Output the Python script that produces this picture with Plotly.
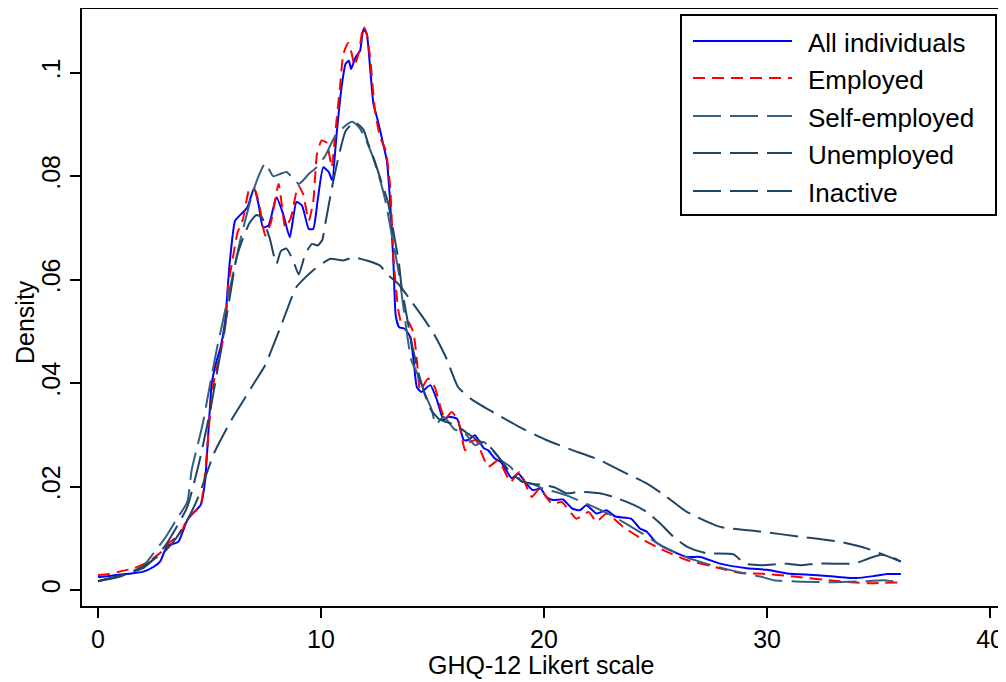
import plotly.graph_objects as go

# ---------------- data ----------------
all_x = [0, 0.5, 1, 1.5, 2, 2.5, 2.8, 3.1, 3.6, 4.0, 4.3, 4.6, 4.8, 5.0, 5.1, 5.3, 5.5, 5.7, 5.9, 6.15, 6.45, 6.7,
         7.0, 7.2, 7.4, 7.65, 8.0, 8.3, 8.6, 8.9, 9.15, 9.45, 9.65, 9.85, 10.1, 10.35, 10.5, 10.7, 10.9, 11.1,
         11.25, 11.35, 11.55, 11.75, 11.9, 12.05, 12.2, 12.35, 12.55, 12.8, 12.95, 13.1, 13.25, 13.35, 13.5,
         13.75, 14.0, 14.15, 14.3, 14.5, 14.9, 15.2, 15.5, 15.7, 16.1, 16.4, 16.6, 16.9, 17.3, 17.5, 17.8, 18.05,
         18.3, 18.55, 18.85, 19.2, 19.5, 19.85, 20.1, 20.4, 20.85, 21.25, 21.6, 21.9, 22.35, 22.8, 23.2, 23.9,
         24.3, 24.6, 25.0, 25.5, 26.4, 27.0, 27.9, 29.1, 30.0, 30.9, 32.1, 33.0, 34.0, 34.8, 35.4, 36.0]
all_y = [0.0025, 0.0027, 0.0030, 0.0032, 0.0035, 0.0045, 0.0056, 0.0085, 0.0093, 0.0135, 0.0150, 0.0164, 0.0210,
         0.0340, 0.0400, 0.0440, 0.0470, 0.0520, 0.0630, 0.0714, 0.0728, 0.0740, 0.0777, 0.0745, 0.0701, 0.0705,
         0.0759, 0.0727, 0.0682, 0.0750, 0.0743, 0.0698, 0.0698, 0.0753, 0.0817, 0.0808, 0.0792, 0.0882, 0.0965,
         0.1017, 0.1023, 0.1007, 0.1030, 0.1042, 0.1084, 0.1075, 0.1010, 0.0940, 0.0907, 0.0860, 0.0830, 0.0750,
         0.0630, 0.0530, 0.0508, 0.0505, 0.0489, 0.0444, 0.0392, 0.0383, 0.0396, 0.0367, 0.0328, 0.0335, 0.0331,
         0.0290, 0.0290, 0.0299, 0.0274, 0.0270, 0.0254, 0.0248, 0.0232, 0.0216, 0.0225, 0.0206, 0.0193, 0.0196,
         0.0180, 0.0174, 0.0175, 0.0158, 0.0154, 0.0164, 0.0148, 0.0154, 0.0142, 0.0138, 0.0119, 0.0113, 0.0093,
         0.0080, 0.0064, 0.0064, 0.0051, 0.0042, 0.0039, 0.0032, 0.0029, 0.0026, 0.0023, 0.0027, 0.0031, 0.0031]

emp_x = [0, 0.5, 1.1, 1.6, 2.2, 2.85, 3.15, 3.7, 4.0, 4.3, 4.6, 4.8, 5.0, 5.2, 5.5, 5.7, 5.85, 6.0, 6.25, 6.5,
         6.8, 7.05, 7.25, 7.5, 7.75, 8.1, 8.4, 8.65, 8.98, 9.2, 9.45, 9.65, 9.82, 10.03, 10.25, 10.48, 10.65,
         10.85, 11.0, 11.22, 11.38, 11.5, 11.7, 11.9, 12.05, 12.2, 12.42, 12.65, 12.9, 13.1, 13.25, 13.47, 13.6,
         13.92, 14.15, 14.3, 14.45, 14.8, 15.1, 15.35, 15.56, 15.86, 16.15, 16.46, 16.68, 16.95, 17.15, 17.5,
         17.95, 18.5, 18.9, 19.45, 19.8, 20.35, 20.8, 21.45, 22.0, 22.35, 22.8, 23.55, 24.45, 25.35, 26.4, 27.6,
         28.8, 30.0, 31.2, 33.0, 34.5, 36.0]
emp_y = [0.0029, 0.0031, 0.0037, 0.0042, 0.0053, 0.0074, 0.0090, 0.0109, 0.0138, 0.0150, 0.0164, 0.0225, 0.0328,
         0.0405, 0.0460, 0.0508, 0.0592, 0.0630, 0.0690, 0.0717, 0.0776, 0.0772, 0.0740, 0.0685, 0.0710, 0.0785,
         0.0701, 0.0720, 0.0782, 0.0765, 0.0714, 0.0750, 0.0843, 0.0869, 0.0865, 0.0817, 0.0888, 0.0972, 0.1036,
         0.1058, 0.1036, 0.1014, 0.1040, 0.1090, 0.1075, 0.1030, 0.0927, 0.0875, 0.0850, 0.0780, 0.0640, 0.0540,
         0.0518, 0.0518, 0.0496, 0.0444, 0.0386, 0.0409, 0.0392, 0.0354, 0.0331, 0.0344, 0.0328, 0.0270, 0.0286,
         0.0290, 0.0270, 0.0238, 0.0251, 0.0209, 0.0228, 0.0180, 0.0196, 0.0167, 0.0170, 0.0138, 0.0151, 0.0132,
         0.0148, 0.0122, 0.0097, 0.0077, 0.0058, 0.0045, 0.0033, 0.0031, 0.0026, 0.0018, 0.0013, 0.0015]

self_x = [0, 1, 2, 2.5, 3, 3.5, 4.0, 4.2, 4.45, 4.7, 4.95, 5.3, 5.6, 6.0, 6.4, 6.9, 7.2, 7.5, 7.85, 8.15, 8.45,
          8.7, 9.0, 9.2, 9.45, 9.8, 10.2, 10.6, 11.0, 11.4, 11.7, 12.0, 12.3, 12.6, 12.9, 13.2, 13.5, 13.75,
          14.05, 14.3, 14.6, 14.95, 15.15, 15.5, 16.0, 16.4, 16.9, 17.3, 17.7, 18.1, 18.5, 19.0, 19.5, 20.0,
          20.5, 21.0, 22.0, 23.0, 24.3, 25.3, 26.4, 27.5, 28.5, 29.7, 30.3, 31.5, 33.0, 34.5, 35.2, 36.0]
self_y = [0.0017, 0.0027, 0.0045, 0.0072, 0.0100, 0.0135, 0.0170, 0.0232, 0.0277, 0.0322, 0.0380, 0.0460,
          0.0520, 0.0600, 0.0680, 0.0763, 0.0800, 0.0825, 0.0800, 0.0804, 0.0808, 0.0798, 0.0785, 0.0792, 0.0804,
          0.0817, 0.0840, 0.0875, 0.0894, 0.0905, 0.0895, 0.0872, 0.0840, 0.0800, 0.0750, 0.0680, 0.0610, 0.0528,
          0.0444, 0.0420, 0.0385, 0.0350, 0.0320, 0.0335, 0.0310, 0.0306, 0.0280, 0.0286, 0.0270, 0.0250, 0.0238,
          0.0210, 0.0205, 0.0195, 0.0190, 0.0183, 0.0165, 0.0145, 0.0112, 0.0085, 0.0063, 0.0048, 0.0037, 0.0026,
          0.0019, 0.0016, 0.0015, 0.0017, 0.0019, 0.0015]

unemp_x = [0, 1, 2, 3, 3.5, 4, 4.5, 5.2, 6.0, 6.5, 7.0, 7.5, 8.2, 8.9, 9.65, 10.4, 11.0, 11.45, 12.05, 12.65,
           12.95, 13.5, 14.1, 14.6, 15.05, 15.6, 16.15, 16.8, 17.7, 18.9, 20.1, 21.3, 22.5, 23.7, 24.6, 25.5,
           26.4, 27.9, 29.7, 31.5, 33.3, 34.5, 36.0]
unemp_y = [0.0017, 0.0026, 0.0045, 0.0075, 0.0100, 0.0135, 0.0180, 0.0264, 0.0330, 0.0365, 0.0400, 0.0435,
           0.0510, 0.0586, 0.0618, 0.0640, 0.0637, 0.0643, 0.0637, 0.0627, 0.0611, 0.0590, 0.0555, 0.0525,
           0.0496, 0.0450, 0.0392, 0.0367, 0.0344, 0.0315, 0.0290, 0.0270, 0.0251, 0.0225, 0.0206, 0.0180,
           0.0151, 0.0122, 0.0113, 0.0103, 0.0093, 0.0080, 0.0055]

inact_x = [0, 1, 2, 2.5, 3, 3.5, 4, 4.5, 5, 5.5, 6.0, 6.2, 6.5, 6.8, 7.1, 7.35, 7.7, 8.0, 8.2, 8.45, 8.75, 9.0,
           9.3, 9.6, 9.85, 10.05, 10.2, 10.5, 10.8, 11.1, 11.5, 11.9, 12.1, 12.4, 12.7, 13.0, 13.3, 13.5, 13.6,
           13.8, 14.1, 14.4, 14.7, 14.95, 15.3, 15.6, 16.0, 16.5, 17.0, 17.5, 18.0, 18.4, 19.0, 19.5, 20.0, 20.5,
           21.0, 21.6, 22.5, 23.1, 24.0, 24.6, 25.2, 25.8, 26.4, 27.3, 28.5, 29.0, 29.7, 30.9, 31.5, 32.2, 33.0,
           33.9, 34.5, 35.1, 35.5, 36.0]
inact_y = [0.0017, 0.0028, 0.0042, 0.0060, 0.0085, 0.0120, 0.0160, 0.0240, 0.0340, 0.0460, 0.0590, 0.0640,
           0.0680, 0.0710, 0.0725, 0.0720, 0.0680, 0.0630, 0.0655, 0.0660, 0.0637, 0.0610, 0.0650, 0.0669, 0.0666,
           0.0676, 0.0710, 0.0780, 0.0840, 0.0887, 0.0905, 0.0890, 0.0865, 0.0830, 0.0790, 0.0750, 0.0680, 0.0630,
           0.0590, 0.0540, 0.0470, 0.0415, 0.0373, 0.0347, 0.0330, 0.0325, 0.0320, 0.0305, 0.0290, 0.0280, 0.0255,
           0.0232, 0.0210, 0.0205, 0.0203, 0.0198, 0.0187, 0.0190, 0.0187, 0.0180, 0.0165, 0.0151, 0.0129, 0.0103,
           0.0084, 0.0071, 0.0069, 0.0051, 0.0048, 0.0051, 0.0048, 0.0051, 0.0051, 0.0051, 0.0060, 0.0068, 0.0065,
           0.0055]

series_names = ["All individuals", "Employed", "Self-employed", "Unemployed", "Inactive"]
x_ticks = [0, 10, 20, 30, 40]
y_ticks = [0, 0.02, 0.04, 0.06, 0.08, 0.1]
y_ticklabels = ["0", ".02", ".04", ".06", ".08", ".1"]

# ---------------- styling ----------------
FONT = "Arial, 'Liberation Sans', sans-serif"
colors = ["#0000ff", "#ff0000", "#36607f", "#1f4566", "#1f4566"]
dashes = ["solid", "12px,7px", "28px,9px", "28px,9px", "28px,9px"]
xs = [all_x, emp_x, self_x, unemp_x, inact_x]
ys = [all_y, emp_y, self_y, unemp_y, inact_y]

fig = go.Figure()
for name, x, y, c, d in zip(series_names, xs, ys, colors, dashes):
    fig.add_trace(go.Scatter(x=x, y=y, mode="lines", name=name, showlegend=False,
                             line=dict(color=c, width=2, dash=d, shape="spline", smoothing=0.5)))

# the page body has an 8px default margin, so the figure is sized to fit the 1006x682 window
OFF = 8
W, H = 1006 - OFF, 682 - OFF
L, R, T, B = 74, 1, 1, 76
pw, ph = W - L - R, H - T - B

def px(xp):  # page pixel -> paper x
    return (xp - OFF - L) / pw

def py(yp):  # page pixel -> paper y
    return 1 - (yp - OFF - T) / ph

axis_common = dict(showline=True, linecolor="black", linewidth=2, mirror=True, ticks="outside",
                   ticklen=10, tickwidth=2, tickcolor="black", showgrid=False, zeroline=False,
                   automargin=False,
                   tickfont=dict(family=FONT, size=25, color="black"))

fig.update_layout(
    template="none",
    width=W, height=H, margin=dict(l=L, r=R, t=T, b=B, autoexpand=False),
    paper_bgcolor="white", plot_bgcolor="white",
    font=dict(family=FONT, color="black"),
    xaxis=dict(range=[-0.7175, 40.67], tickvals=x_ticks, **axis_common),
    yaxis=dict(range=[-0.00309, 0.11231], tickvals=y_ticks, ticktext=y_ticklabels, tickangle=-90,
               **axis_common),
    showlegend=False,
)

# axis titles
fig.add_annotation(text="GHQ-12 Likert scale", xref="paper", yref="paper", x=px(541), y=py(665),
                   showarrow=False, font=dict(family=FONT, size=25), xanchor="center", yanchor="middle")
fig.add_annotation(text="Density", xref="paper", yref="paper", x=px(25), y=py(322), textangle=-90,
                   showarrow=False, font=dict(family=FONT, size=25), xanchor="center", yanchor="middle")

# legend box
fig.add_shape(type="rect", xref="paper", yref="paper", x0=px(681), x1=px(996), y0=py(15), y1=py(215),
              line=dict(color="black", width=2), fillcolor="white", layer="above")
leg_y = [41, 78, 116, 153, 191]
for name, c, d, yy in zip(series_names, colors, dashes, leg_y):
    fig.add_shape(type="line", xref="paper", yref="paper", x0=px(693), x1=px(792), y0=py(yy), y1=py(yy),
                  line=dict(color=c, width=2, dash=d), layer="above")
    fig.add_annotation(text=name, xref="paper", yref="paper", x=px(806), y=py(yy + 2), showarrow=False,
                       xanchor="left", yanchor="middle", font=dict(family=FONT, size=26, color="black"))

fig.write_html("out.html")
